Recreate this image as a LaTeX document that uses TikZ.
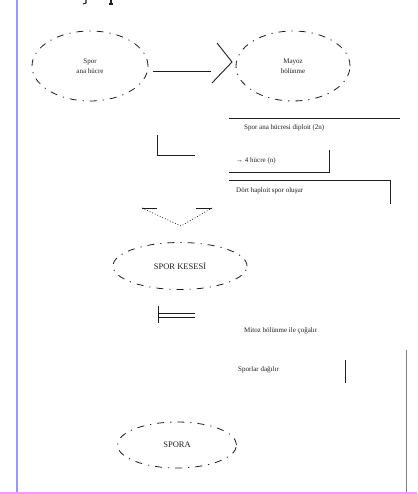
\documentclass[tikz,border=0pt]{standalone}
\usepackage{fontspec}
\setmainfont{Liberation Serif}
\usetikzlibrary{shapes.geometric}
\definecolor{frameblue}{RGB}{150,150,255}
\definecolor{framepink}{RGB}{255,150,255}
\definecolor{inkgray}{RGB}{30,30,30}
\begin{document}
\begin{tikzpicture}[x=1pt,y=-1pt,
  bubble/.style={draw=inkgray, ellipse, line width=0.8pt,
    dash pattern=on 7pt off 6pt on 1.2pt off 6pt, inner sep=0pt,
    align=center, font=\fontsize{7}{10}\selectfont, text=inkgray},
  lbl/.style={font=\fontsize{7}{8}\selectfont, anchor=west, inner sep=0pt, text=inkgray},
  rule/.style={line width=0.9pt, draw=inkgray},
]
\useasboundingbox (0,0) rectangle (417,494);

% page frame
\draw[frameblue, line width=2pt] (17,0) -- (17,492);
\draw[framepink, line width=2pt] (0,493) -- (417,493);
\draw[gray, line width=0.6pt] (406,350) -- (406,492);

% strokes left of a heading above the top edge
\draw[rule, line width=1.1pt] (86,0) -- (86,3) -- (83,4);
\draw[rule, line width=1.1pt] (111,0) -- (111,4) (109,4) -- (113,4);

% life-cycle stages
\node[bubble, minimum width=116pt, minimum height=70pt] (mother) at (90,66) {Spor\\ana hücre};
\node[bubble, minimum width=114pt, minimum height=70pt] (meiosis) at (293,66) {Mayoz\\bölünme};
\node[bubble, minimum width=134pt, minimum height=47pt, font=\fontsize{8.5}{9}\selectfont] (sac) at (180,266) {SPOR KESESİ};
\node[bubble, minimum width=119pt, minimum height=46pt, font=\fontsize{8.5}{9}\selectfont] (spore) at (177,445) {SPORA};

% arrow from the mother cell to meiosis
\coordinate (tailend) at (211,71);
\coordinate (tip) at (232,62);
\coordinate (barbtop) at (217,43);
\coordinate (barbbot) at (212,83);
\draw[rule] (mother.east) ++(5,5) -- (tailend);
\draw[rule] (barbtop) -- (tip) -- (barbbot);

% notes on the right
\draw[rule] (229,118) -- (400,118);
\node[lbl] (n1) at (244,128) {Spor ana hücresi diploit (2n)};

\draw[rule] (329,150) -- (329,172) -- (229,172);
\node[lbl] (n2) at (236,161) {→ 4 hücre (n)};

\draw[rule] (229,180) -- (390,180) -- (390,204);
\node[lbl] (n3) at (236,191) {Dört haploit spor oluşur};

\node[lbl] (n4) at (244,331) {Mitoz bölünme ile çoğalır};
\node[lbl] (n5) at (238,370) {Sporlar dağılır};
\draw[rule] (345,360) -- (345,383);

% small marks between the stages
\draw[rule] (157,135) -- (157,155) -- (195,155);

\coordinate (vl) at (142,208);
\coordinate (vr) at (212,208);
\coordinate (vtip) at (181,226);
\draw[rule] (vl) -- ++(15,0);
\draw[rule] (vr) -- ++(-16,0);
\draw[inkgray, line width=0.8pt, dotted] (vl) -- (vtip) -- (vr);

\draw[rule] (158,306) -- (158,323);
\draw[rule, line width=0.7pt] (158,313) -- (195,313);
\draw[rule, line width=0.7pt] (158,317) -- (195,317);
\end{tikzpicture}
\end{document}
